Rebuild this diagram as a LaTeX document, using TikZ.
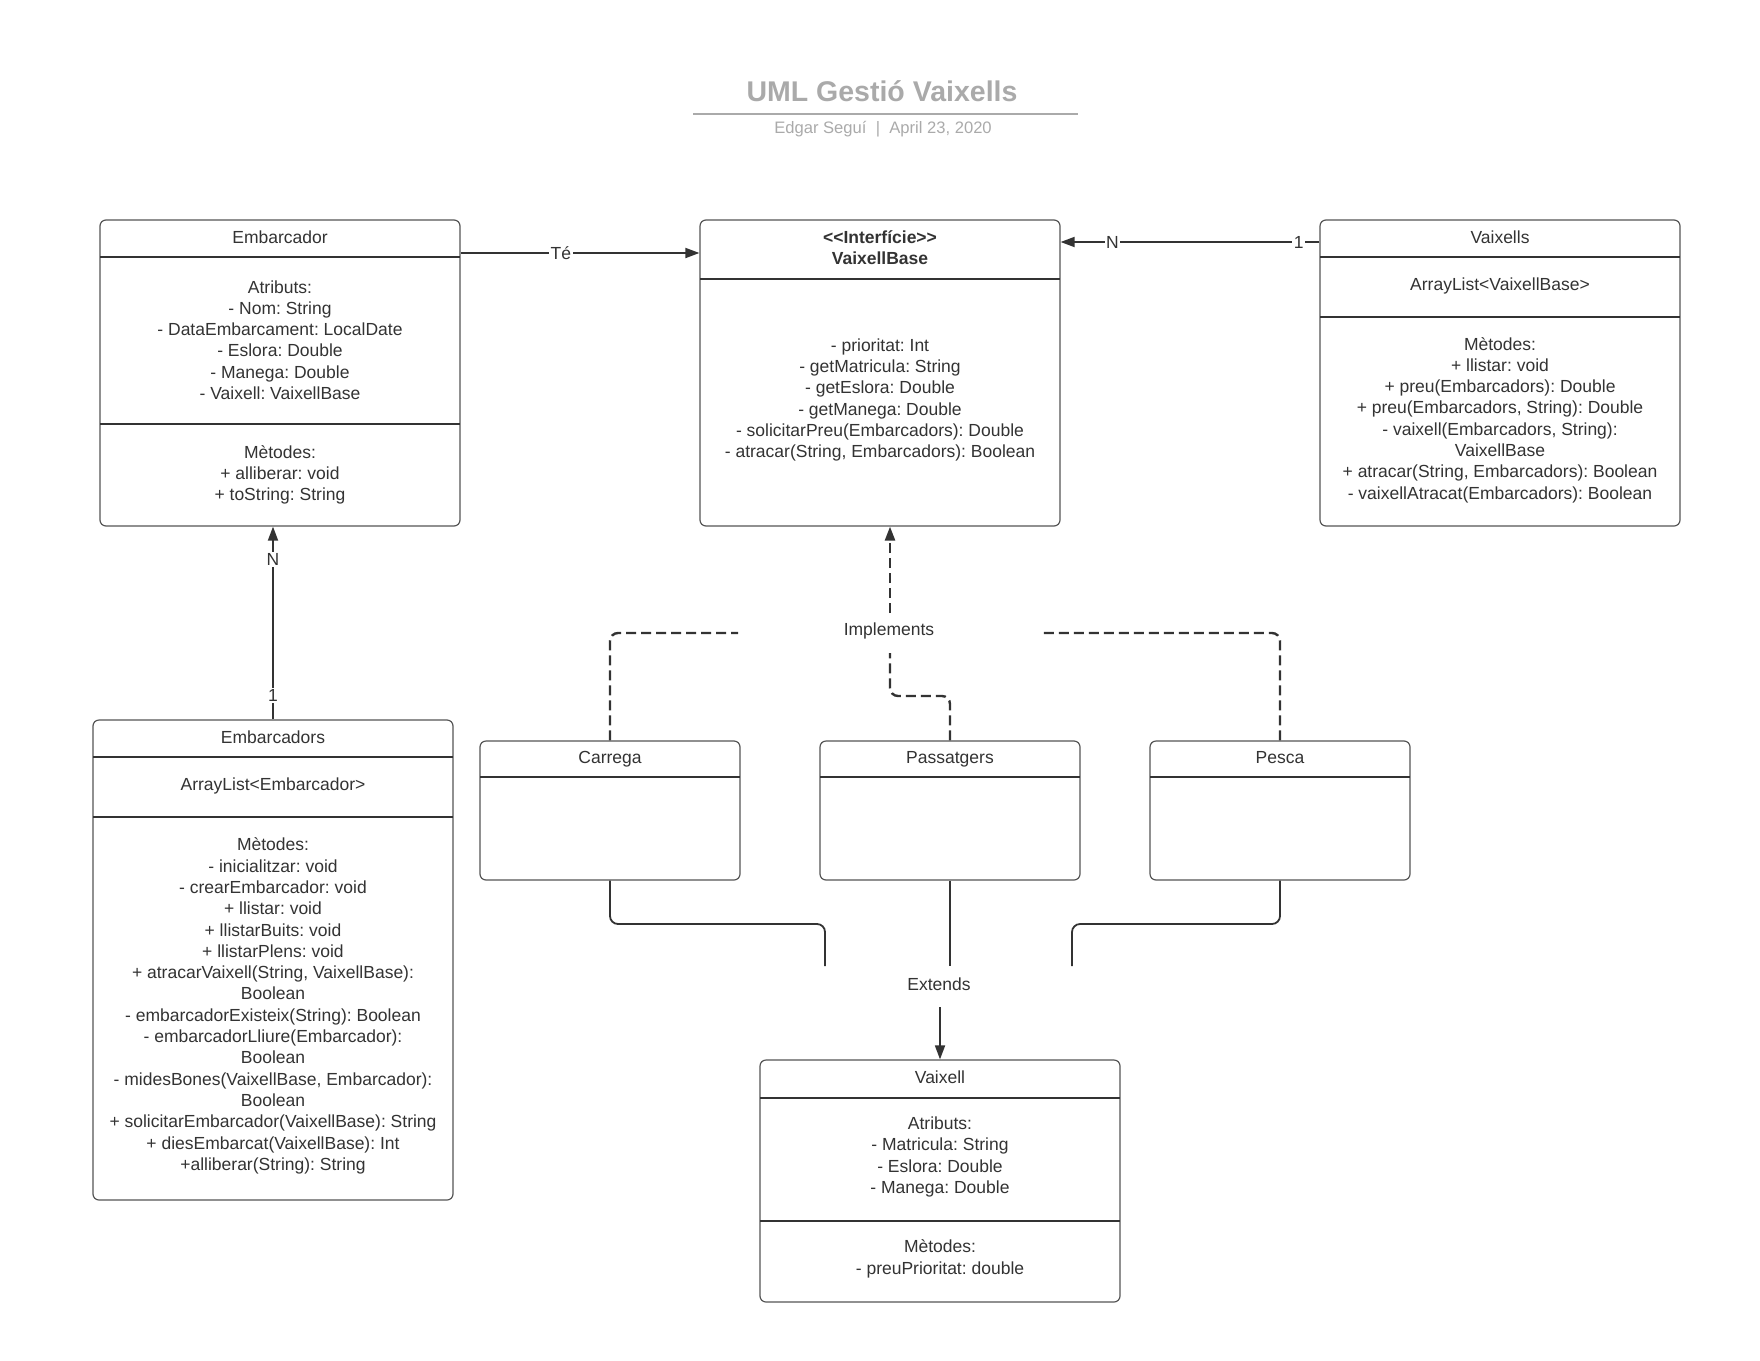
\documentclass[tikz,border=0pt]{standalone}
\usepackage{fontspec}
\setmainfont{Liberation Sans}
\usetikzlibrary{arrows.meta}
\definecolor{ink}{HTML}{333333}
\definecolor{titlegray}{HTML}{AAAAAA}
\definecolor{boxline}{HTML}{555555}
\frenchspacing
\begin{document}
\frenchspacing
\begin{tikzpicture}[x=1pt,y=1pt,
 classbox/.style={draw=boxline, line width=1.2pt, rounded corners=6pt, fill=white, inner sep=0pt},
 sep/.style={draw=ink, line width=1.1pt},
 txt/.style={align=center, text=ink, font=\fontsize{17.5}{21.3}\selectfont, inner sep=0pt},
 hdr/.style={txt, anchor=base},
 conn/.style={draw=ink, line width=1.8pt},
 dconn/.style={draw=ink, line width=2.4pt, dash pattern=on 10pt off 5pt},
 tip/.style={-{Triangle[length=14pt,width=10pt]}},
 lbl/.style={fill=white, text=ink, font=\fontsize{17.5}{20}\selectfont, inner sep=1.5pt},
]
\useasboundingbox (0,0) rectangle (1760,-1360);

% Title
\node[font=\bfseries\fontsize{28.5}{32}\selectfont, text=titlegray] (title) at (882,-91) {UML Gestió Vaixells};
\draw[titlegray, line width=1.8pt] (693,-114) -- (1078,-114);
\node[font=\fontsize{16.6}{19}\selectfont, text=titlegray] (subtitle) at (883,-129) {Edgar Seguí~~|~~April 23, 2020};

% Embarcador
\node[classbox, minimum width=360, minimum height=306] (embarcador) at (280,-373) {};
\draw[sep] (100,-257) -- (460,-257);
\draw[sep] (100,-424) -- (460,-424);
\node[hdr] (embarcadorH) at (280,-243.5) {Embarcador};
\node[txt] (embarcadorA) at (280,-340) {Atributs:\\- Nom: String\\- DataEmbarcament: LocalDate\\- Eslora: Double\\- Manega: Double\\- Vaixell: VaixellBase};
\node[txt] (embarcadorM) at (280,-475) {Mètodes:\\+ alliberar: void\\+ toString: String};

% VaixellBase
\node[classbox, minimum width=360, minimum height=306] (vbase) at (880,-373) {};
\draw[sep] (700,-279) -- (1060,-279);
\node[txt, font=\bfseries\fontsize{17.5}{21.3}\selectfont] (vbaseH) at (880,-248) {<{}<Interfície>{}>\\VaixellBase};
\node[txt] (vbaseB) at (880,-400) {- prioritat: Int\\- getMatricula: String\\- getEslora: Double\\- getManega: Double\\- solicitarPreu(Embarcadors): Double\\- atracar(String, Embarcadors): Boolean};

% Vaixells
\node[classbox, minimum width=360, minimum height=306] (vaixells) at (1500,-373) {};
\draw[sep] (1320,-257) -- (1680,-257);
\draw[sep] (1320,-317) -- (1680,-317);
\node[hdr] (vaixellsH) at (1500,-243.5) {Vaixells};
\node[txt] (vaixellsA) at (1500,-286) {ArrayList<VaixellBase>};
\node[txt] (vaixellsM) at (1500,-420) {Mètodes:\\+ llistar: void\\+ preu(Embarcadors): Double\\+ preu(Embarcadors, String): Double\\- vaixell(Embarcadors, String):\\VaixellBase\\+ atracar(String, Embarcadors): Boolean\\- vaixellAtracat(Embarcadors): Boolean};

% Embarcadors
\node[classbox, minimum width=360, minimum height=480] (embarcadors) at (273,-960) {};
\draw[sep] (93,-757) -- (453,-757);
\draw[sep] (93,-817) -- (453,-817);
\node[hdr] (embarcadorsH) at (273,-743.5) {Embarcadors};
\node[txt] (embarcadorsA) at (273,-786) {ArrayList<Embarcador>};
\node[txt] (embarcadorsM) at (273,-1006) {Mètodes:\\- inicialitzar: void\\- crearEmbarcador: void\\+ llistar: void\\+ llistarBuits: void\\+ llistarPlens: void\\+ atracarVaixell(String, VaixellBase):\\Boolean\\- embarcadorExisteix(String): Boolean\\- embarcadorLliure(Embarcador):\\Boolean\\- midesBones(VaixellBase, Embarcador):\\Boolean\\+ solicitarEmbarcador(VaixellBase): String\\+ diesEmbarcat(VaixellBase): Int\\+alliberar(String): String};

% Carrega, Passatgers, Pesca
\node[classbox, minimum width=260, minimum height=139] (carrega) at (610,-810.5) {};
\draw[sep] (480,-777) -- (740,-777);
\node[hdr] (carregaH) at (610,-763) {Carrega};
\node[classbox, minimum width=260, minimum height=139] (passatgers) at (950,-810.5) {};
\draw[sep] (820,-777) -- (1080,-777);
\node[hdr] (passatgersH) at (950,-763) {Passatgers};
\node[classbox, minimum width=260, minimum height=139] (pesca) at (1280,-810.5) {};
\draw[sep] (1150,-777) -- (1410,-777);
\node[hdr] (pescaH) at (1280,-763) {Pesca};

% Vaixell
\node[classbox, minimum width=360, minimum height=242] (vaixell) at (940,-1181) {};
\draw[sep] (760,-1098) -- (1120,-1098);
\draw[sep] (760,-1221) -- (1120,-1221);
\node[hdr] (vaixellH) at (940,-1083.5) {Vaixell};
\node[txt] (vaixellA) at (940,-1157) {Atributs:\\- Matricula: String\\- Eslora: Double\\- Manega: Double};
\node[txt] (vaixellM) at (940,-1259) {Mètodes:\\- preuPrioritat: double};

% Associations
\draw[conn, tip] (embarcador.east |- 0,-253) -- (vbase.west |- 0,-253)
  node[lbl, pos=0.42] {Té};
\draw[conn, tip] (vaixells.west |- 0,-242) -- (vbase.east |- 0,-242)
  node[lbl, pos=0.08] {1}
  node[lbl, pos=0.80] {N};
\draw[conn, tip] (embarcadors.north) -- (embarcadors.north |- embarcador.south)
  node[lbl, pos=0.124] {1}
  node[lbl, pos=0.83] {N};

% Implements
\node[lbl] (impl) at (889,-631) {Implements};
\coordinate (implL) at (738,-633);
\coordinate (implR) at (1039,-633);
\coordinate (implB) at (890,-653);
\coordinate (implT) at (890,-613);
\draw[dconn, rounded corners=8pt] (carrega.north) |- (implL);
\draw[dconn, rounded corners=8pt] (pesca.north) |- (implR);
\draw[dconn, rounded corners=8pt] (passatgers.north) |- (890,-696) -- (implB);
\draw[dconn, tip] (implT) -- (implT |- vbase.south);

% Extends
\node[lbl] (ext) at (939,-984) {Extends};
\coordinate (extL) at (825,-966);
\coordinate (extM) at (950,-966);
\coordinate (extR) at (1072,-966);
\coordinate (extT) at (940,-1007);
\draw[conn, rounded corners=8pt] (carrega.south) |- (825,-924) -- (extL);
\draw[conn] (passatgers.south) -- (extM);
\draw[conn, rounded corners=8pt] (pesca.south) |- (1072,-924) -- (extR);
\draw[conn, tip] (extT) -- (vaixell.north);
\end{tikzpicture}
\end{document}
